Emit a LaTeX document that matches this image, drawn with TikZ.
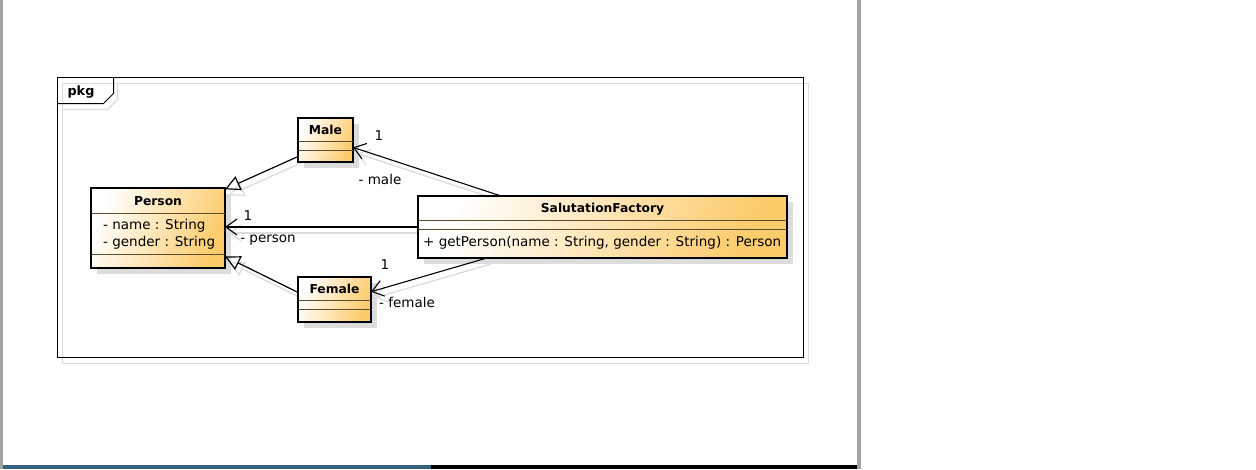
\documentclass[tikz,border=0pt]{standalone}
\usepackage{fontspec}
\setmainfont{DejaVu Sans}
\usetikzlibrary{arrows.meta,shadows,backgrounds,calc}
\definecolor{umlor}{HTML}{FCCB6A}
\definecolor{complin}{HTML}{5E4C30}
\definecolor{shadowg}{HTML}{DCDCDC}
\definecolor{pagegray}{HTML}{A3A3A3}
\definecolor{bluebar}{HTML}{36607E}
\tikzset{
  umlbox/.style={draw=black, line width=2.8pt, left color=white, right color=umlor,
    shading angle=68, inner sep=0pt, outer sep=0pt,
    drop shadow={shadow xshift=6pt, shadow yshift=-6pt, fill=shadowg, opacity=1}},
  compline/.style={draw=complin, line width=1.2pt},
  lbl/.style={inner sep=0pt, font=\fontsize{13.5}{17}\selectfont},
  ttl/.style={inner sep=0pt, font=\fontsize{12.3}{14}\selectfont\bfseries},
  gen/.style={draw=black, line width=1.2pt, -{Triangle[open,length=15pt,width=15pt]}},
  assoc/.style={draw=black, line width=1.1pt, -{Straight Barb[length=11pt,width=16pt]}},
  cshadow/.style={draw=shadowg, line width=1.3pt, transform canvas={shift={(4pt,-6pt)}}},
}
\begin{document}
\begin{tikzpicture}[x=1pt,y=-1pt]
\useasboundingbox (0,0) rectangle (1256,469);
\begin{scope}[on background layer]
  \fill[white] (0,0) rectangle (1256,469);
\end{scope}
% page edges
\fill[pagegray] (0,0) rectangle (3,469);
\fill[pagegray] (857,0) rectangle (861,469);
\fill[bluebar] (3,465) rectangle (431,469);
\fill[black] (431,465) rectangle (857,469);

% frame
\node[draw=black, line width=1pt, minimum width=746pt, minimum height=280pt,
      anchor=north west, inner sep=0pt, outer sep=0pt] (frame) at (57.5,77.5) {};
\draw[line width=1pt] ([yshift=-26pt]frame.north west) -- ++(46,0) -- ++(10,-10)
   -- ([xshift=56pt]frame.north west);
\node[ttl, font=\fontsize{12.8}{14}\selectfont\bfseries] (pkg) at (81,92) {pkg};

% classes
\node[umlbox, minimum width=134pt, minimum height=80pt] (person) at (158,228) {};
\node[umlbox, minimum width=55pt, minimum height=44pt] (male) at (325.5,140) {};
\node[umlbox, minimum width=73pt, minimum height=45pt] (female) at (334.5,299.5) {};
\node[umlbox, minimum width=369pt, minimum height=62pt] (sf) at (602.5,227) {};

% compartments
\draw[compline] ([yshift=-25.7pt]person.north west) -- ([yshift=-25.7pt]person.north east);
\draw[compline] ([yshift=-66.7pt]person.north west) -- ([yshift=-66.7pt]person.north east);
\draw[compline] ([yshift=-23.7pt]male.north west) -- ([yshift=-23.7pt]male.north east);
\draw[compline] ([yshift=-32.7pt]male.north west) -- ([yshift=-32.7pt]male.north east);
\draw[compline] ([yshift=-23.7pt]female.north west) -- ([yshift=-23.7pt]female.north east);
\draw[compline] ([yshift=-32.7pt]female.north west) -- ([yshift=-32.7pt]female.north east);
\draw[compline] ([yshift=-24.7pt]sf.north west) -- ([yshift=-24.7pt]sf.north east);
\draw[compline] ([yshift=-33.7pt]sf.north west) -- ([yshift=-33.7pt]sf.north east);

% texts
\node[ttl] (personT) at (158,201) {Person};
\node[lbl, anchor=west, align=left] (personA) at (103,234.5) {- name : String\\- gender : String};
\node[ttl] (maleT) at (325.5,130) {Male};
\node[ttl] (femaleT) at (334.5,289) {Female};
\node[ttl] (sfT) at (602.5,209) {SalutationFactory};
\node[lbl, anchor=west] (sfM) at (423,243) {+ getPerson(name : String, gender : String) : Person};

% connectors
\draw[gen] (male.211) -- (person.30);
\draw[gen] (female.169) -- (person.337);
\draw[assoc] (sf.west) -- (sf.west -| person.east);
\draw[assoc] (sf.163) -- (male.345);
\draw[assoc] (sf.195) -- (female.12);

% connector labels
\node[lbl] (m1) at (379,136) {1};
\node[lbl] (mr) at (380,179) {- male};
\node[lbl] (p1) at (248,216) {1};
\node[lbl] (pr) at (268,240) {- person};
\node[lbl] (f1) at (385,265) {1};
\node[lbl] (fr) at (407,302) {- female};

% shadows behind
\begin{scope}[on background layer]
  \draw[shadowg, line width=1.5pt] ([shift={(5pt,-6pt)}]frame.north west) rectangle ([shift={(5pt,-6pt)}]frame.south east);
  \draw[cshadow] ([yshift=-26pt]frame.north west) -- ++(46,0) -- ++(10,-10) -- ([xshift=56pt]frame.north west);
  \draw[cshadow, -{Triangle[open,length=15pt,width=15pt]}] (male.211) -- (person.30);
  \draw[cshadow, -{Triangle[open,length=15pt,width=15pt]}] (female.169) -- (person.337);
  \draw[cshadow, -{Straight Barb[length=11pt,width=16pt]}] (sf.west) -- (sf.west -| person.east);
  \draw[cshadow, -{Straight Barb[length=11pt,width=16pt]}] (sf.163) -- (male.345);
  \draw[cshadow, -{Straight Barb[length=11pt,width=16pt]}] (sf.195) -- (female.12);
\end{scope}
\end{tikzpicture}
\end{document}
